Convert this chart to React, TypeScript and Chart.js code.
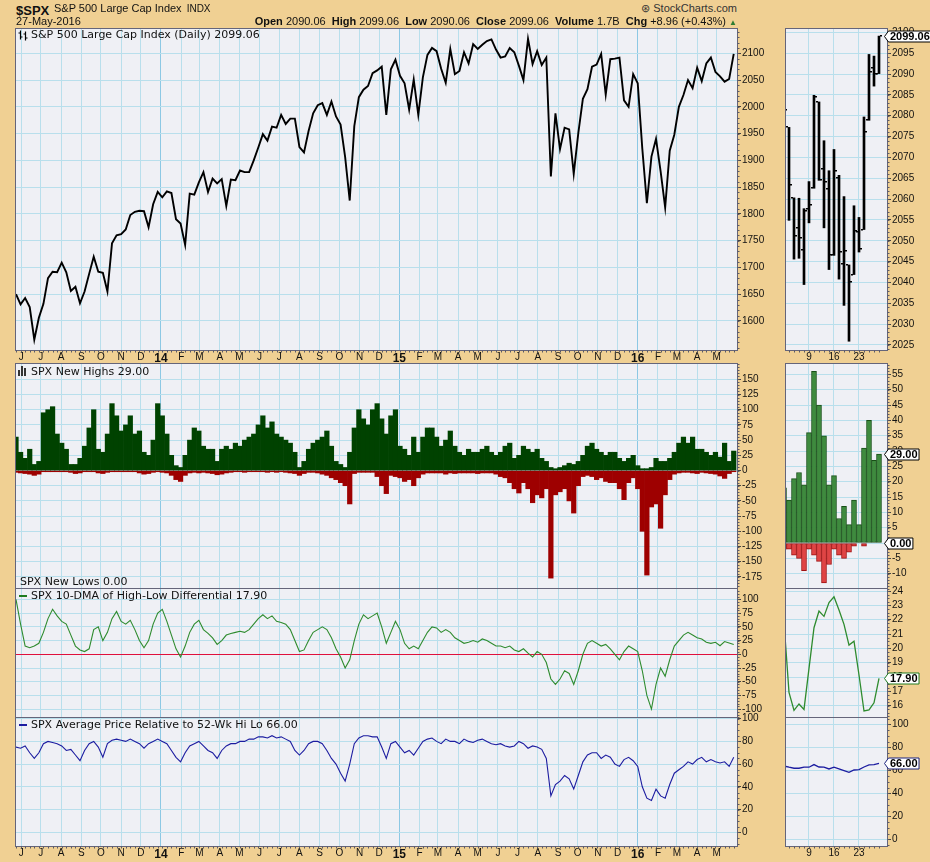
import React, { useEffect, useRef } from "react";
import { Chart, registerables } from "chart.js";

Chart.register(...registerables);

// ---------------- data (left panels: weekly, week ending Friday) ----------------
const FIRST_WEEK = "2013-05-24";

const PRICE = [
  1650, 1631, 1643, 1626, 1565, 1606, 1632, 1680, 1692, 1691, 1709, 1691, 1656, 1664, 1633, 1655,
  1688, 1720, 1692, 1690, 1655, 1745, 1760, 1762, 1771, 1798, 1804, 1806, 1805, 1775, 1818, 1841,
  1831, 1842, 1839, 1790, 1782, 1742, 1838, 1836, 1859, 1878, 1841, 1866, 1857, 1865, 1815, 1864,
  1863, 1881, 1878, 1878, 1900, 1924, 1949, 1937, 1963, 1961, 1985, 1968, 1978, 1978, 1925, 1915,
  1955, 1988, 2003, 2007, 1985, 2010, 1982, 1967, 1906, 1825, 1964, 2018, 2032, 2039, 2063, 2068,
  2075, 1985, 2070, 2088,
  2058, 2044, 1995, 2051, 1985, 2055, 2097, 2110, 2104, 2071, 2045, 2108, 2061, 2067, 2102, 2081,
  2117, 2108, 2116, 2123, 2126, 2107, 2092, 2094, 2110, 2102, 2077, 2050, 2127, 2080, 2104, 2078,
  2092, 1870, 1988, 1921, 1961, 1958, 1875, 1951, 2015, 2033, 2075, 2079, 2099, 2023, 2089, 2090,
  2092, 2012, 2000, 2061,
  2044, 1922, 1820, 1907, 1940, 1880, 1812, 1918, 1948, 2000, 2022, 2050, 2035, 2073, 2048, 2081,
  2092, 2065, 2057, 2047, 2052, 2099,
];

const NEW_HIGHS = [
  55, 30, 20, 35, 10, 15, 95, 100, 105, 60, 45, 35, 10, 10, 20, 40,
  70, 100, 35, 30, 60, 110, 90, 65, 75, 90, 60, 65, 30, 25, 50, 110,
  90, 60, 25, 8, 5, 25, 50, 70, 65, 40, 35, 35, 15, 35, 40, 35,
  45, 40, 50, 55, 60, 75, 90, 70, 80, 60, 55, 50, 45, 30, 5, 15,
  35, 45, 50, 55, 65, 40, 15, 10, 5, 30, 70, 100, 85, 75, 100, 110,
  85, 60, 90, 100,
  40, 35, 25, 55, 30, 55, 70, 70, 55, 40, 50, 65, 40, 30, 25, 35,
  30, 30, 35, 40, 30, 25, 30, 40, 45, 20, 25, 40, 35, 30, 35, 20,
  15, 5, 3, 5, 8, 12, 10, 15, 25, 40, 45, 35, 30, 25, 30, 30,
  20, 15, 20, 25,
  8, 3, 3, 5, 20, 15, 15, 20, 30, 45, 55, 45, 55, 35, 35, 30,
  25, 30, 22, 45, 15, 32,
];

const NEW_LOWS = [
  -3, -4, -5, -6, -8, -6, -2, -2, -2, -2, -2, -2, -3, -5, -4, -2,
  -2, -2, -4, -5, -3, -2, -2, -2, -2, -2, -2, -4, -6, -5, -3, -2,
  -3, -4, -8, -15, -18, -8, -4, -3, -4, -3, -4, -5, -7, -6, -4, -3,
  -2, -2, -3, -2, -2, -2, -2, -3, -2, -3, -2, -3, -4, -5, -8, -5,
  -3, -3, -4, -6, -8, -12, -15, -20, -25, -55, -5, -3, -3, -3, -3, -10,
  -25, -38, -8, -10,
  -12, -18, -15, -25, -12, -6, -4, -4, -4, -4, -6, -4, -5, -4, -4, -4,
  -4, -5, -4, -4, -4, -6, -10, -12, -20, -30, -37, -20, -30, -53, -40, -45,
  -30, -177, -40, -35, -30, -50, -70, -25, -10, -8, -10, -15, -12, -18, -20, -20,
  -30, -48, -20, -12,
  -30, -100, -172, -60, -55, -95, -40, -15, -6, -4, -3, -3, -4, -5, -3, -4,
  -5, -6, -9, -13, -5, -2,
];

const HL_DMA = [
  100, 55, 15, 12, 15, 20, 40, 65, 82, 70, 60, 55, 35, 15, 8, 5,
  10, 45, 50, 25, 40, 65, 78, 60, 55, 62, 45, 25, 12, 25, 55, 75,
  82, 60, 35, 10, -5, 15, 40, 55, 62, 45, 38, 30, 18, 25, 35, 38,
  40, 42, 40, 45, 55, 65, 72, 65, 70, 60, 58, 55, 45, 25, 5, 8,
  25, 40, 45, 50, 45, 30, 10, -5, -25, -10, 25, 55, 72, 65, 70, 75,
  50, 20, 40, 60,
  45, 20, 10, 15, 10, 25, 40, 50, 48, 40, 45, 40, 30, 25, 20, 22,
  25, 22, 28, 25, 20, 15, 15, 12, 15, 8, 5, 10, 2, -5, 5, 0,
  -15, -45, -55, -45, -30, -35, -55, -30, 0, 20, 25, 20, 15, 18, 10, 0,
  -10, 5, 15, 10,
  5, -30, -75, -100, -55, -25, -40, -10, 15, 25, 35, 40, 35, 30, 28, 22,
  20, 22, 15.7, 23.2, 20.5, 17.9,
];

const AVG_REL = [
  75, 74, 76, 70, 65, 70, 78, 80, 79, 78, 76, 72, 73, 68, 63, 72,
  78, 80, 75, 66, 78, 81, 82, 81, 80, 82, 80, 78, 74, 78, 80, 82,
  80, 78, 72, 66, 62, 70, 76, 78, 80, 76, 72, 70, 65, 72, 76, 78,
  78, 80, 80, 82, 82, 84, 84, 83, 85, 83, 84, 82, 80, 72, 68, 72,
  78, 80, 80, 78, 72, 65, 60, 52, 45, 60, 78, 83, 85, 85, 84, 84,
  75, 65, 78, 80,
  75, 70, 72, 68, 74, 80, 82, 83, 80, 78, 82, 80, 80, 78, 82, 80,
  79, 81, 82, 80, 78, 77, 78, 76, 75, 76, 80, 78, 74, 76, 75, 73,
  65, 32, 42, 45, 50, 47, 38, 50, 62, 68, 70, 70, 65, 68, 66, 60,
  58, 64, 66, 63,
  58, 40, 30, 28, 38, 32, 30, 42, 52, 55, 58, 62, 60, 64, 66, 62,
  64, 62, 61, 62, 58, 66,
];

// ---------------- data (right panels: daily, May 2016) ----------------
const R_DAYS = [
  "2016-05-02", "2016-05-03", "2016-05-04", "2016-05-05", "2016-05-06",
  "2016-05-09", "2016-05-10", "2016-05-11", "2016-05-12", "2016-05-13",
  "2016-05-16", "2016-05-17", "2016-05-18", "2016-05-19", "2016-05-20",
  "2016-05-23", "2016-05-24", "2016-05-25", "2016-05-26", "2016-05-27",
];
const R_OPEN = [2067.2, 2077.2, 2060.3, 2053.0, 2047.8, 2057.6, 2062.6, 2083.3, 2067.2, 2062.5, 2046.5, 2065.0, 2044.4, 2044.2, 2041.9, 2052.2, 2052.7, 2078.9, 2091.4, 2090.1];
const R_HIGH = [2083.4, 2077.2, 2060.3, 2060.2, 2057.7, 2064.2, 2084.9, 2083.3, 2074.0, 2066.8, 2071.9, 2065.7, 2060.6, 2044.2, 2058.4, 2055.6, 2079.7, 2094.7, 2094.3, 2099.1];
const R_LOW = [2066.1, 2054.9, 2045.6, 2045.8, 2039.5, 2054.3, 2062.6, 2064.5, 2053.1, 2043.1, 2046.5, 2040.8, 2034.5, 2025.9, 2041.9, 2047.3, 2052.7, 2078.9, 2087.1, 2090.1];
const R_CLOSE = [2081.4, 2063.4, 2051.1, 2050.6, 2057.1, 2058.7, 2084.4, 2064.5, 2064.1, 2046.6, 2066.7, 2047.2, 2047.6, 2040.0, 2052.3, 2048.0, 2076.1, 2090.5, 2090.1, 2099.06];
const R_HIGHS = [18, 14, 21, 23, 19, 36, 56, 45, 35, 19, 22, 8, 12, 6, 14, 6, 31, 40, 27, 29];
const R_LOWS = [-2, -2, -4, -5, -9, -2, -4, -6, -13, -7, -2, -4, -5, -3, -1, 0, -1, 0, 0, 0];
const R_DMA = [21.8, 16.93, 15.67, 16.12, 15.74, 18.6, 21.44, 22.6, 22.23, 23.2, 23.6, 22.67, 21.67, 20.23, 20.5, 18.14, 15.63, 15.7, 16.2, 17.9];
const R_AVG = [63.8, 62.7, 61.8, 61.8, 62.7, 62.7, 65, 62.9, 62.7, 61.2, 62.7, 61.2, 59.8, 58.3, 60.3, 60.6, 62.9, 64.7, 65, 66];
const R_TICK_DAYS = ["2016-05-09", "2016-05-16", "2016-05-23"];

// ---------------- tick labels ----------------
const MONTH_LETTERS = ["J", "F", "M", "A", "M", "J", "J", "A", "S", "O", "N", "D"];
const L_PRICE_TICKS = [1600, 1650, 1700, 1750, 1800, 1850, 1900, 1950, 2000, 2050, 2100];
const L_HL_TICKS = [-175, -150, -125, -100, -75, -50, -25, 0, 25, 50, 75, 100, 125, 150];
const L_DMA_TICKS = [-100, -75, -50, -25, 0, 25, 50, 75, 100];
const L_AVG_TICKS = [0, 20, 40, 60, 80, 100];
const R_PRICE_TICKS = [2025, 2030, 2035, 2040, 2045, 2050, 2055, 2060, 2065, 2070, 2075, 2080, 2085, 2090, 2095, 2100];
const R_HL_TICKS = [-10, -5, 0, 5, 10, 15, 20, 25, 30, 35, 40, 45, 50, 55];
const R_DMA_TICKS = [16, 17, 18, 19, 20, 21, 22, 23, 24];
const R_AVG_TICKS = [0, 20, 40, 60, 80, 100];

// ---------------- styling ----------------
const TAN = "#F0D093";
const PLOT_BG = "#EFF0F5";
const FRAME = "#65657A";
const GRID = "#B9DFEC";
const GRID_YEAR = "#8CC8E4";
const SANS = "'Liberation Sans', Arial, sans-serif";
const VERD = "'DejaVu Sans', Verdana, sans-serif";
const PAD = 8;

Chart.defaults.font.family = SANS;

// ---------------- axis helpers ----------------
const DAY = 86400000;
const dayNum = (s: string) => Date.UTC(+s.slice(0, 4), +s.slice(5, 7) - 1, +s.slice(8, 10)) / DAY;
const WEEK_X = PRICE.map((_, i) => dayNum(FIRST_WEEK) + 7 * i);
const L_XMIN = dayNum("2013-05-24");
const L_XMAX = dayNum("2016-06-01");

const MONTH_TICKS: number[] = [];
const MONTH_TEXT: Record<string, string> = {};
for (let k = 0; k < 36; k++) {
  const y = 2013 + Math.floor((5 + k) / 12);
  const m = (5 + k) % 12;
  const v = Date.UTC(y, m, 1) / DAY;
  MONTH_TICKS.push(v);
  MONTH_TEXT[String(v)] = m === 0 ? String(y).slice(2) : MONTH_LETTERS[m];
}
const isYearTick = (v: number) => new Date(v * DAY).getUTCMonth() === 0;
const leftLabel = (v: number) => MONTH_TEXT[String(v)] || "";

const R_TICKS = R_TICK_DAYS.map((d) => R_DAYS.indexOf(d));
const R_IDX = R_DAYS.map((_, i) => i);
const rightLabel = (v: number) => {
  const d = R_DAYS[Math.round(v)];
  return d ? String(+d.slice(8)) : "";
};
const R_XMIN = 0.4;
const R_XMAX = 20.6;

// ---------------- plugins ----------------
const framePlugin = {
  id: "frame",
  beforeDraw(chart: any) {
    const { ctx, chartArea: a } = chart;
    ctx.save();
    ctx.fillStyle = PLOT_BG;
    ctx.fillRect(a.left, a.top, a.right - a.left, a.bottom - a.top);
    ctx.restore();
  },
  afterDraw(chart: any) {
    const { ctx, chartArea: a } = chart;
    ctx.save();
    ctx.strokeStyle = FRAME;
    ctx.lineWidth = 1;
    ctx.strokeRect(a.left - 0.5, a.top - 0.5, a.right - a.left + 1, a.bottom - a.top + 1);
    ctx.restore();
  },
};

function minorTicks(yStep: number, xVals: number[] | null) {
  return {
    id: "minorTicks",
    afterDraw(chart: any) {
      const { ctx, chartArea: a } = chart;
      const xs = chart.scales.x;
      const ys = chart.scales.y;
      ctx.save();
      ctx.fillStyle = "#5A5A66";
      const n = Math.floor((ys.max - ys.min) / yStep) + 1;
      const first = Math.ceil(ys.min / yStep);
      for (let k = 0; k < n; k++) {
        const y = Math.round(ys.getPixelForValue((first + k) * yStep));
        if (y >= a.top && y <= a.bottom) ctx.fillRect(a.right + 0.5, y, 2, 1);
      }
      if (xVals) {
        xVals.forEach((v) => {
          const x = Math.round(xs.getPixelForValue(v));
          if (x >= a.left && x <= a.right) ctx.fillRect(x, a.bottom + 0.5, 1, 2);
        });
      }
      ctx.restore();
    },
  };
}

function tagPlugin(tags: { value: number; text: string; color: string }[]) {
  return {
    id: "tags",
    afterDraw(chart: any) {
      const { ctx, chartArea: a } = chart;
      const ys = chart.scales.y;
      ctx.save();
      ctx.font = "bold 11px 'Liberation Sans', Arial, sans-serif";
      ctx.textBaseline = "middle";
      ctx.textAlign = "left";
      tags.forEach((t) => {
        const y = Math.round(ys.getPixelForValue(t.value)) + 0.5;
        const x0 = a.right - 2.5;
        const w = ctx.measureText(t.text).width + 3;
        const h = 5.5;
        ctx.beginPath();
        ctx.moveTo(x0, y);
        ctx.lineTo(x0 + 4, y - h);
        ctx.lineTo(x0 + 4 + w, y - h);
        ctx.lineTo(x0 + 4 + w, y + h);
        ctx.lineTo(x0 + 4, y + h);
        ctx.closePath();
        ctx.fillStyle = "#fff";
        ctx.fill();
        ctx.strokeStyle = t.color;
        ctx.lineWidth = 1;
        ctx.stroke();
        ctx.fillStyle = "#000";
        ctx.fillText(t.text, x0 + 5.5, y + 0.5);
      });
      ctx.restore();
    },
  };
}

const ohlcTicks = {
  id: "ohlcTicks",
  afterDatasetsDraw(chart: any) {
    const { ctx, chartArea: a } = chart;
    const xs = chart.scales.x;
    const ys = chart.scales.y;
    ctx.save();
    ctx.beginPath();
    ctx.rect(a.left, a.top, a.right - a.left, a.bottom - a.top);
    ctx.clip();
    ctx.fillStyle = "#000";
    R_OPEN.forEach((o, i) => {
      const x = Math.round(xs.getPixelForValue(i));
      const yo = Math.round(ys.getPixelForValue(o));
      const yc = Math.round(ys.getPixelForValue(R_CLOSE[i]));
      ctx.fillRect(x - 3, yo - 1, 2, 1.5);
      ctx.fillRect(x + 1, yc - 1, 2, 1.5);
    });
    ctx.restore();
  },
};

// ---------------- chart config ----------------
type Spec = {
  key: string;
  left: number;
  top: number;
  plotW: number;
  plotH: number;
  axisW: number;
  xLabelH: number;
  type: "line" | "bar";
  datasets: any[];
  xMin: number;
  xMax: number;
  xTicks: number[];
  xLabel: (v: number) => string;
  xMajor: (v: number) => boolean;
  yMin: number;
  yMax: number;
  yTicks: number[];
  yGrid?: (v: number) => string;
  extra?: any[];
};

function buildConfig(s: Spec): any {
  return {
    type: s.type,
    data: { datasets: s.datasets },
    options: {
      responsive: false,
      animation: false,
      devicePixelRatio: 1,
      events: [],
      layout: { autoPadding: false, padding: { left: 1, top: PAD, right: 0, bottom: PAD } },
      plugins: { legend: { display: false }, tooltip: { enabled: false } },
      scales: {
        x: {
          type: "linear",
          min: s.xMin,
          max: s.xMax,
          offset: false,
          afterBuildTicks: (sc: any) => {
            sc.ticks = s.xTicks.map((v) => ({ value: v }));
          },
          afterFit: (sc: any) => {
            sc.height = s.xLabelH;
            sc.paddingLeft = 0;
            sc.paddingRight = 0;
          },
          grid: {
            offset: false,
            drawTicks: false,
            lineWidth: 1,
            color: (c: any) => (c.tick && s.xMajor(c.tick.value) ? GRID_YEAR : GRID),
          },
          border: { display: false },
          ticks: {
            display: s.xLabelH > 0,
            autoSkip: false,
            maxRotation: 0,
            minRotation: 0,
            padding: 1,
            color: "#111",
            font: (c: any) =>
              c.tick && s.xMajor(c.tick.value)
                ? { family: SANS, size: 12, weight: "bold" }
                : { family: SANS, size: 10 },
            callback: (v: any) => s.xLabel(Number(v)),
          },
        },
        y: {
          type: "linear",
          position: "right",
          min: s.yMin,
          max: s.yMax,
          afterBuildTicks: (sc: any) => {
            sc.ticks = s.yTicks.map((v) => ({ value: v }));
          },
          afterFit: (sc: any) => {
            sc.width = s.axisW;
            sc.paddingTop = 0;
            sc.paddingBottom = 0;
          },
          grid: {
            drawTicks: true,
            tickLength: 4,
            tickColor: "#444",
            lineWidth: 1,
            color: (c: any) => (c.tick && s.yGrid ? s.yGrid(c.tick.value) : GRID),
          },
          border: { display: false },
          ticks: {
            padding: 1,
            color: "#111",
            font: { family: SANS, size: 10 },
            callback: (v: any) => String(v),
          },
        },
      },
    },
    plugins: [framePlugin, ...(s.extra || [])],
  };
}

function Panel({ spec }: { spec: Spec }) {
  const ref = useRef<HTMLCanvasElement>(null);
  useEffect(() => {
    const chart = new Chart(ref.current as HTMLCanvasElement, buildConfig(spec));
    return () => chart.destroy();
  }, []);
  const w = 1 + spec.plotW + spec.axisW;
  const h = PAD + spec.plotH + spec.xLabelH + PAD;
  return (
    <canvas
      ref={ref}
      width={w}
      height={h}
      style={{ position: "absolute", left: spec.left - 1, top: spec.top - PAD, width: w, height: h }}
    />
  );
}

const weekPts = (arr: number[]) => arr.map((v, i) => ({ x: WEEK_X[i], y: v }));
const dayPts = (arr: number[]) => arr.map((v, i) => ({ x: i, y: v }));

const LEFT = { left: 16, plotW: 721, axisW: 46, xMin: L_XMIN, xMax: L_XMAX, xTicks: MONTH_TICKS, xLabel: leftLabel, xMajor: isYearTick };
const RIGHT = { left: 786, plotW: 101, axisW: 43, xMin: R_XMIN, xMax: R_XMAX, xTicks: R_TICKS, xLabel: rightLabel, xMajor: () => false };

const barStyle = { grouped: false, barPercentage: 1, categoryPercentage: 1 };

const PANELS: Spec[] = [
  {
    key: "p1l", ...LEFT, top: 29, plotH: 321, xLabelH: 14, type: "line",
    datasets: [{ data: weekPts(PRICE), borderColor: "#000", borderWidth: 1.9, pointRadius: 0, tension: 0 }],
    yMin: 1545.8, yMax: 2145.4, yTicks: L_PRICE_TICKS,
    extra: [minorTicks(10, WEEK_X)],
  },
  {
    key: "p2l", ...LEFT, top: 364, plotH: 225, xLabelH: 0, type: "bar",
    datasets: [
      { data: weekPts(NEW_HIGHS), backgroundColor: "#004200", borderWidth: 0, ...barStyle },
      { data: weekPts(NEW_LOWS), backgroundColor: "#9E0000", borderWidth: 0, ...barStyle },
    ],
    yMin: -194.9, yMax: 175.2, yTicks: L_HL_TICKS,
    extra: [minorTicks(5, null)],
  },
  {
    key: "p3l", ...LEFT, top: 589, plotH: 129, xLabelH: 0, type: "line",
    datasets: [{ data: weekPts(HL_DMA), borderColor: "#2E8B2E", borderWidth: 1.1, pointRadius: 0, tension: 0 }],
    yMin: -116.1, yMax: 119.0, yTicks: L_DMA_TICKS,
    yGrid: (v: number) => (v === 0 ? "#E0103C" : GRID),
    extra: [minorTicks(5, null)],
  },
  {
    key: "p4l", ...LEFT, top: 718, plotH: 128, xLabelH: 14, type: "line",
    datasets: [{ data: weekPts(AVG_REL), borderColor: "#1C1CA0", borderWidth: 1.1, pointRadius: 0, tension: 0 }],
    yMin: -12.1, yMax: 100.6, yTicks: L_AVG_TICKS,
    extra: [minorTicks(5, WEEK_X)],
  },
  {
    key: "p1r", ...RIGHT, top: 29, plotH: 321, xLabelH: 14, type: "bar",
    datasets: [{ data: R_LOW.map((l, i) => ({ x: i, y: [l, R_HIGH[i]] })), backgroundColor: "#000", barThickness: 2 }],
    yMin: 2023.8, yMax: 2100.8, yTicks: R_PRICE_TICKS,
    extra: [ohlcTicks, minorTicks(1, R_IDX), tagPlugin([{ value: 2099.06, text: "2099.06", color: "#000" }])],
  },
  {
    key: "p2r", ...RIGHT, top: 364, plotH: 225, xLabelH: 0, type: "bar",
    datasets: [
      { data: dayPts(R_HIGHS), backgroundColor: "#3E8B3E", borderColor: "#174F17", borderWidth: 1, borderSkipped: false, ...barStyle },
      { data: dayPts(R_LOWS), backgroundColor: "#E04444", borderColor: "#A01010", borderWidth: 1, borderSkipped: false, ...barStyle },
    ],
    yMin: -15.0, yMax: 58.4, yTicks: R_HL_TICKS,
    extra: [minorTicks(1, null), tagPlugin([
      { value: 29, text: "29.00", color: "#000" },
      { value: 0, text: "0.00", color: "#000" },
    ])],
  },
  {
    key: "p3r", ...RIGHT, top: 589, plotH: 129, xLabelH: 0, type: "line",
    datasets: [{ data: dayPts(R_DMA), borderColor: "#2E8B2E", borderWidth: 1.3, pointRadius: 0, tension: 0 }],
    yMin: 15.14, yMax: 24.14, yTicks: R_DMA_TICKS,
    extra: [minorTicks(0.25, null), tagPlugin([{ value: 17.9, text: "17.90", color: "#1E7B1E" }])],
  },
  {
    key: "p4r", ...RIGHT, top: 718, plotH: 128, xLabelH: 14, type: "line",
    datasets: [{ data: dayPts(R_AVG), borderColor: "#1C1CA0", borderWidth: 1.3, pointRadius: 0, tension: 0 }],
    yMin: -5.8, yMax: 105.5, yTicks: R_AVG_TICKS,
    extra: [minorTicks(5, R_IDX), tagPlugin([{ value: 66, text: "66.00", color: "#1A237E" }])],
  },
];

// ---------------- overlay text ----------------
function Txt({ x, right, base, size, font = SANS, weight = 400, color = "#111", children }: any) {
  const style: any = {
    position: "absolute",
    top: base - 0.85 * size,
    fontFamily: font,
    fontSize: size,
    lineHeight: `${size}px`,
    fontWeight: weight,
    color,
    whiteSpace: "nowrap",
  };
  if (right !== undefined) style.right = 930 - right;
  else style.left = x;
  return <div style={style}>{children}</div>;
}

export default function App() {
  return (
    <div style={{ position: "fixed", left: 0, top: 0, width: 930, height: 862, background: TAN, overflow: "hidden" }}>
      {PANELS.map((p) => (
        <Panel key={p.key} spec={p} />
      ))}

      <Txt x={16} base={14.7} size={13} weight={700}>$SPX</Txt>
      <Txt x={54} base={12.3} size={11}>
        S&amp;P 500 Large Cap Index<span style={{ fontSize: 10, marginLeft: 5 }}>INDX</span>
      </Txt>
      <Txt x={16} base={25.3} size={11}>27-May-2016</Txt>
      <Txt right={737} base={12} size={11} color="#333">⊛ StockCharts.com</Txt>
      <Txt right={737} base={25.3} size={11}>
        <b>Open</b> 2090.06&nbsp; <b>High</b> 2099.06&nbsp; <b>Low</b> 2090.06&nbsp; <b>Close</b> 2099.06&nbsp;{" "}
        <b>Volume</b> 1.7B&nbsp; <b>Chg</b> +8.96 (+0.43%) <span style={{ color: "#2E7D32", fontSize: 8 }}>▲</span>
      </Txt>

      <svg width={11} height={11} style={{ position: "absolute", left: 18, top: 30 }}>
        <path d="M2.5 0.5v9M0.5 3h2M2.5 7h2M7.5 1.5v9M5.5 4h2M7.5 8h2" stroke="#000" strokeWidth={1.2} fill="none" />
      </svg>
      <Txt x={31} base={38.3} size={11} font={VERD}>S&amp;P 500 Large Cap Index (Daily) 2099.06</Txt>

      <svg width={10} height={10} style={{ position: "absolute", left: 18, top: 366 }}>
        <rect x={0} y={4} width={2} height={6} fill="#333" />
        <rect x={3} y={0} width={2} height={10} fill="#333" />
        <rect x={6} y={2} width={2} height={8} fill="#333" />
      </svg>
      <Txt x={31} base={375} size={11} font={VERD}>SPX New Highs 29.00</Txt>
      <Txt x={20} base={585.7} size={11} font={VERD}>SPX New Lows 0.00</Txt>

      <div style={{ position: "absolute", left: 19, top: 595, width: 8, height: 2, background: "#1E7B1E" }} />
      <Txt x={31} base={599} size={11} font={VERD}>SPX 10-DMA of High-Low Differential 17.90</Txt>

      <div style={{ position: "absolute", left: 19, top: 724, width: 8, height: 2, background: "#1C1CA0" }} />
      <Txt x={31} base={728.3} size={11} font={VERD}>SPX Average Price Relative to 52-Wk Hi Lo 66.00</Txt>
    </div>
  );
}
